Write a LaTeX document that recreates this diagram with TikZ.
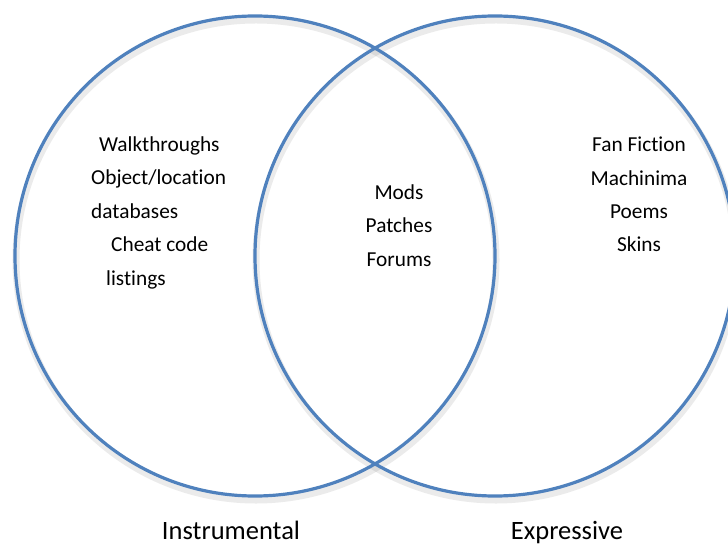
\documentclass[tikz,border=0pt]{standalone}
\usepackage{fontspec}
\setmainfont{Carlito}[Ligatures=NoCommon]
\definecolor{vennblue}{HTML}{4F81BD}
\begin{document}
\begin{tikzpicture}[x=1bp,y=-1bp,
  ring/.style={circle, draw=vennblue, line width=3.2bp, minimum size=480bp, inner sep=0pt},
  ringshadow/.style={circle, draw=black, draw opacity=0.08, line width=7bp, minimum size=480bp, inner sep=0pt},
  item/.style={font=\fontsize{21.4}{24}\selectfont, inner sep=0pt, anchor=base},
  itemw/.style={font=\fontsize{21.4}{24}\selectfont, inner sep=0pt, anchor=base west},
  lab/.style={font=\fontsize{26.6}{30}\selectfont, inner sep=0pt, anchor=base}]
\useasboundingbox (0,0) rectangle (728,545);
\begin{scope}
\clip (0,0) rectangle (728,545);
\node[ringshadow] (Ls) at (256,260) {};
\node[ringshadow] (Rs) at (496,260) {};
\node[ring] (L) at (255,256) {};
\node[ring] (R) at (495,256) {};
\end{scope}
% left set
\node[itemw] (w1) at (99,152) {Walkthroughs};
\node[itemw] (w2) at (91,185) {Object/location};
\node[itemw] (w3) at (91,219) {databases};
\node[itemw] (w4) at (111,252) {Cheat code};
\node[itemw] (w5) at (106,286) {listings};
% middle
\node[item] (m1) at (399,200) {Mods};
\node[item] (m2) at (399,233) {Patches};
\node[item] (m3) at (399,267) {Forums};
% right
\node[item] (r1) at (639,152) {Fan Fiction};
\node[item] (r2) at (639,186) {Machinima};
\node[item] (r3) at (639,219) {Poems};
\node[item] (r4) at (639,252) {Skins};
% labels
\node[lab] (li) at (231,539) {Instrumental};
\node[lab] (le) at (567,539) {Expressive};
\end{tikzpicture}
\end{document}
